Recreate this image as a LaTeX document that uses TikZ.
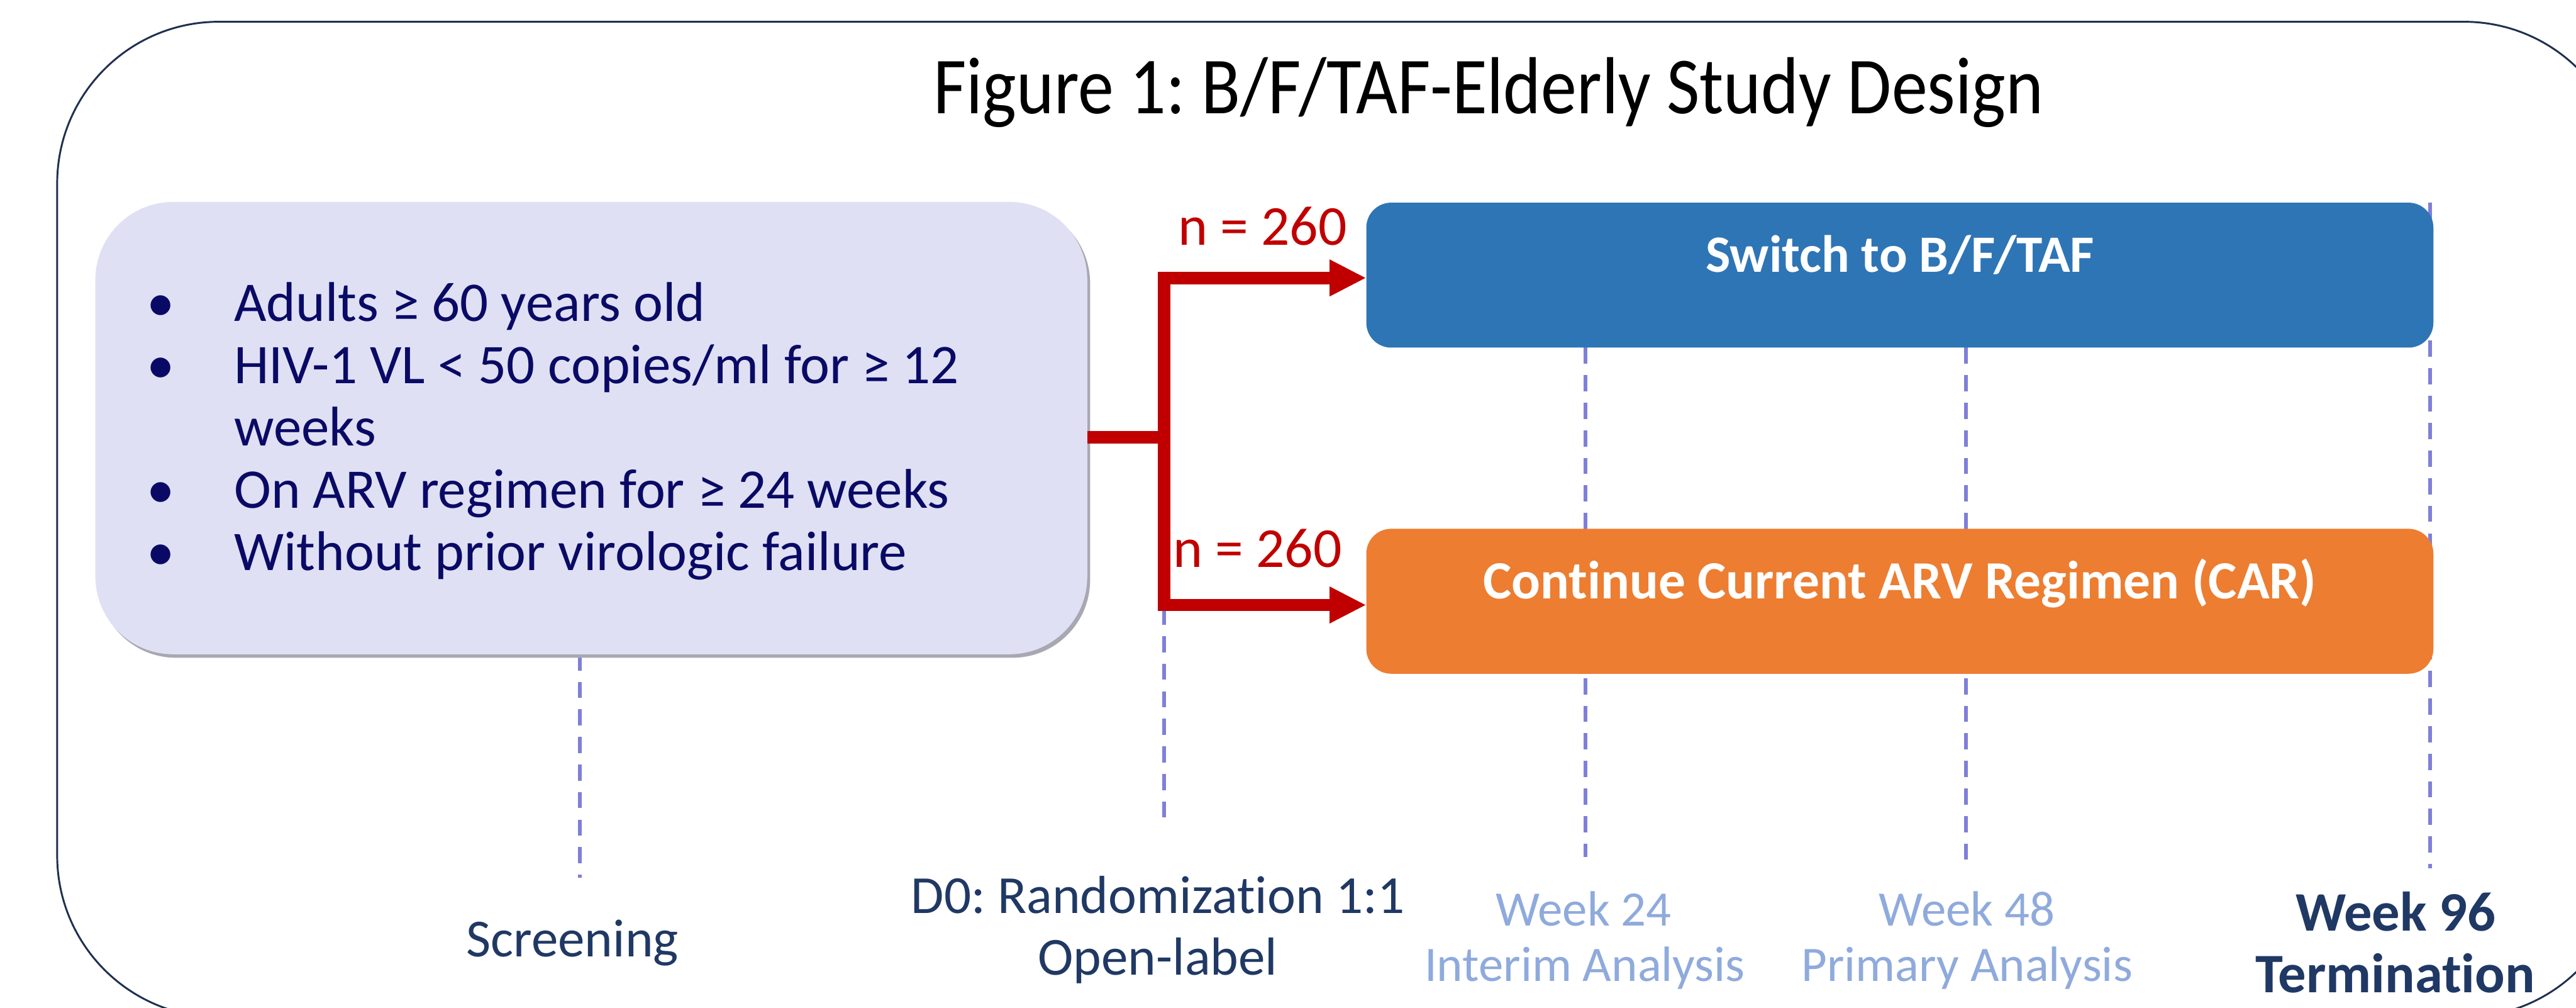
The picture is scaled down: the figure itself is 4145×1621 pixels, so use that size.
\documentclass[tikz,border=0pt]{standalone}
\usepackage{fontspec}
\setmainfont{Carlito}[Ligatures=NoCommon]
\newfontfamily\titlefont{Carlito}[FakeStretch=0.886]
\usetikzlibrary{arrows.meta,shadows}
\pgfdeclarelayer{background}
\pgfsetlayers{background,main}
\frenchspacing
\definecolor{framenavy}{HTML}{1F3050}
\definecolor{critfill}{HTML}{DFE0F3}
\definecolor{critshadow}{HTML}{A8A8B2}
\definecolor{critink}{HTML}{0A0A66}
\definecolor{armred}{HTML}{C00000}
\definecolor{armblue}{HTML}{2E75B6}
\definecolor{armorange}{HTML}{ED7D31}
\definecolor{visitblue}{HTML}{7F7FD9}
\definecolor{darklabel}{HTML}{203864}
\definecolor{lightlabel}{HTML}{8FAADC}

\begin{document}
\begin{tikzpicture}[x=0.01cm,y=-0.01cm,
	critbox/.style={fill=critfill,rounded corners=1.25cm,minimum width=15.95cm,minimum height=7.27cm,inner sep=0,outer sep=0,
		drop shadow={shadow xshift=1.3pt,shadow yshift=-1.6pt,fill=critshadow,opacity=1}},
	itemtext/.style={inner sep=0,text=critink,font=\fontsize{25.6}{28.45}\selectfont},
	armbox/.style={rounded corners=0.4cm,minimum width=17.16cm,minimum height=2.33cm,inner sep=0,outer sep=0},
	armtext/.style={inner sep=0,text=white,font=\fontsize{24}{28}\selectfont\bfseries},
	nlabel/.style={inner sep=0,text=armred,font=\fontsize{25.8}{30}\selectfont},
	splitline/.style={draw=armred,line width=5.7pt},
	visit/.style={draw=visitblue,line width=1.7pt,dash pattern=on 7.4pt off 5.2pt},
	darklab/.style={inner sep=0,text=darklabel,font=\fontsize{24.5}{28}\selectfont},
	lightlab/.style={inner sep=0,text=lightlabel,font=\fontsize{22.7}{26}\selectfont},
	endlab/.style={inner sep=0,text=darklabel,font=\fontsize{25.5}{30}\selectfont\bfseries}]
	\useasboundingbox (0,0) rectangle (4145,1621);
	\clip (0,0) rectangle (4145,1621);
	\draw[framenavy,line width=0.85pt,rounded corners=2.6cm] (92,35) rectangle (4225,1636);
	\node[inner sep=0,font=\fontsize{37}{44}\titlefont,anchor=base] (title) at (2395,183) {Figure 1: B/F/TAF-Elderly Study Design};
	\node[critbox] (crit) at (951.5,688.5) {};
	\node[itemtext,anchor=base west] (items) at (236,517) {\begin{tabular}[t]{@{}p{39.8pt}@{}l@{}}
		• & Adults ≥ 60 years old\\
		• & HIV-1 VL < 50 copies/ml for ≥ 12\\
		& weeks\\
		• & On ARV regimen for ≥ 24 weeks\\
		• & Without prior virologic failure
	\end{tabular}};
	\node[armbox,fill=armblue] (switch) at (3057,442.5) {};
	\node[armbox,fill=armorange] (car) at (3057,967) {};
	\node[armtext,anchor=base] (switchtext) at (3057,438) {Switch to B/F/TAF};
	\node[armtext,font=\fontsize{24.6}{28}\selectfont\bfseries,anchor=base] (cartext) at (3057,963) {Continue Current ARV Regimen (CAR)};
	\coordinate (fork) at (1873,703);
	\coordinate (forktop) at (1873,447);
	\coordinate (forkbot) at (1873,973);
	\coordinate (scr) at (933,1412);
	\coordinate (rand) at (1873,1333);
	\coordinate (wk24) at (2551,1378);
	\coordinate (wk48) at (3163,1396);
	\coordinate (wk96) at (3910,1396);
	\begin{pgfonlayer}{background}
		\draw[visit] (crit.south -| scr) -- (scr);
		\draw[visit] (forktop) -- (rand);
		\draw[visit] (switch.south -| wk24) -- (wk24);
		\draw[visit] (switch.south -| wk48) -- (wk48);
		\draw[visit] (switch.north -| wk96) -- (wk96);
	\end{pgfonlayer}
	\draw[splitline] (crit.east |- fork) -- (fork);
	\draw[splitline,-{Triangle[length=16.8pt,width=15.6pt]}] (fork) -- (forktop) -- (switch.west |- forktop);
	\draw[splitline,-{Triangle[length=16.8pt,width=15.6pt]}] (fork) -- (forkbot) -- (car.west |- forkbot);
	\node[nlabel,anchor=base east] (ntop) at (2168,394) {n = 260};
	\node[nlabel,anchor=base east] (nbot) at (2160,912) {n = 260};
	\node[darklab,anchor=base] (scrlab) at (921,1539) {Screening};
	\node[darklab,anchor=base] (randlab) at (1863,1469) {D0: Randomization 1:1};
	\node[darklab,anchor=base] (openlab) at (1863,1568) {Open-label};
	\node[lightlab,anchor=base] (wk24lab) at (2548,1489) {Week 24};
	\node[lightlab,anchor=base] (wk24sub) at (2550,1578) {Interim Analysis};
	\node[lightlab,anchor=base] (wk48lab) at (3165,1489) {Week 48};
	\node[lightlab,anchor=base] (wk48sub) at (3165,1578) {Primary Analysis};
	\node[endlab,anchor=base] (wk96lab) at (3855,1497) {Week 96};
	\node[endlab,anchor=base] (wk96sub) at (3854,1596) {Termination};
\end{tikzpicture}
\end{document}
